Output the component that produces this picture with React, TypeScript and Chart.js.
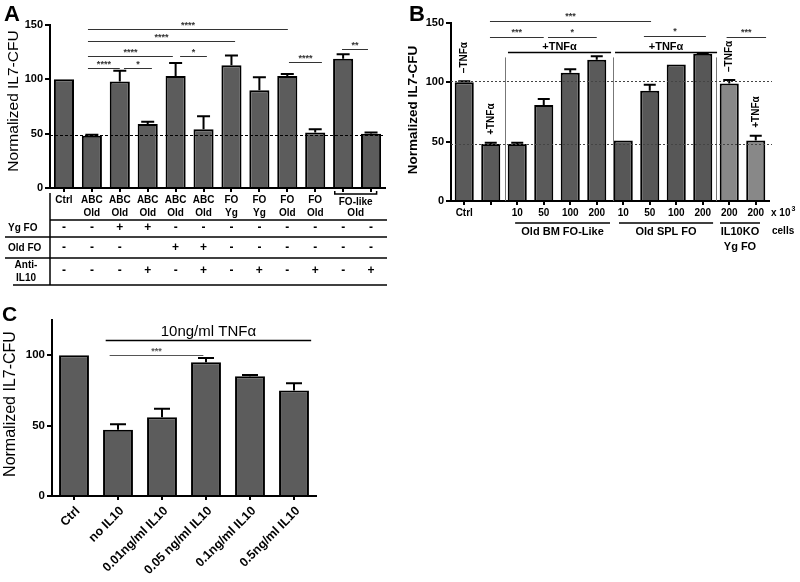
import React, { useEffect, useRef } from "react";
import { Chart, registerables } from "chart.js";
Chart.register(...registerables);

const FONT = "'Liberation Sans', Arial, Helvetica, sans-serif";

// ---------- Panel A data ----------
const catsA1 = ["Ctrl", "ABC", "ABC", "ABC", "ABC", "ABC", "FO", "FO", "FO", "FO", "", ""];
const catsA2 = ["", "Old", "Old", "Old", "Old", "Old", "Yg", "Yg", "Old", "Old", "", ""];
const valuesA = [100, 48, 98, 59, 103, 54, 113, 90, 103, 51, 119, 50];
const errA = [0, 1, 10, 2, 12, 12, 9, 12, 2, 3, 4, 1];
const ygFO = ["-", "-", "+", "+", "-", "-", "-", "-", "-", "-", "-", "-"];
const oldFO = ["-", "-", "-", "", "+", "+", "-", "-", "-", "-", "-", "-"];
const antiIL10 = ["-", "-", "-", "+", "-", "+", "-", "+", "-", "+", "-", "+"];
const refLineA = 49;
const sigA = [
  { from: 0.86, to: 8.02, v: 146, label: "****" },
  { from: 0.86, to: 6.13, v: 135, label: "****" },
  { from: 0.86, to: 3.9, v: 121.5, label: "****" },
  { from: 4.16, to: 5.12, v: 121.5, label: "*" },
  { from: 0.86, to: 2.0, v: 110.5, label: "****" },
  { from: 2.15, to: 3.15, v: 110.5, label: "*" },
  { from: 8.06, to: 9.24, v: 116, label: "****" },
  { from: 9.96, to: 10.89, v: 128, label: "**" },
];

// ---------- Panel B data ----------
const catsB = ["Ctrl", "", "10", "50", "100", "200", "10", "50", "100", "200", "200", "200"];
const valuesB = [100, 48, 48, 81, 108, 119, 51, 93, 115, 124, 99, 51];
const errB = [1, 1, 1, 5, 3, 3, 0, 5, 0, 0.5, 3, 4];
const colorsB = ["#5a5a5a", "#5a5a5a", "#5a5a5a", "#5a5a5a", "#5a5a5a", "#5a5a5a", "#575757", "#575757", "#575757", "#575757", "#888888", "#888888"];
const refLinesB = [101.5, 48];
const sigB = [
  { from: 0.97, to: 7.05, v: 151.5, label: "***" },
  { from: 0.97, to: 3.0, v: 138, label: "***" },
  { from: 3.16, to: 5.0, v: 138, label: "*" },
  { from: 6.78, to: 9.12, v: 139, label: "*" },
  { from: 9.9, to: 11.39, v: 138, label: "***" },
];
const tnfGroupsB = [
  { from: 1.65, to: 5.54, v: 125.6, label: "+TNFα" },
  { from: 5.69, to: 9.54, v: 125.6, label: "+TNFα" },
];
const dividersB = [1.54, 5.61, 9.5];
const rotLabelsB = [
  { i: 0, text: "–TNFα" },
  { i: 1, text: "+TNFα" },
  { i: 10, text: "–TNFα" },
  { i: 11, text: "+TNFα" },
];
const groupsB = [
  { from: 1.92, to: 5.5, lines: ["Old BM FO-Like"] },
  { from: 5.84, to: 9.39, lines: ["Old SPL FO"] },
  { from: 9.65, to: 11.16, lines: ["IL10KO", "Yg FO"] },
];

// ---------- Panel C data ----------
const catsC = ["Ctrl", "no IL10", "0.01ng/ml IL10", "0.05 ng/ml IL10", "0.1ng/ml IL10", "0.5ng/ml IL10"];
const valuesC = [100, 47, 56, 95, 85, 75];
const errC = [0, 4, 6, 3, 1, 5];
const tnfC = { from: 0.72, to: 5.39, v: 111, label: "10ng/ml TNFα" };
const sigC = [{ from: 0.81, to: 2.94, v: 100.4, label: "***" }];

type Spec = {
  labels: string[];
  values: number[];
  colors: string | string[];
  yMax: number;
  yTicks: number[];
  padTop: number;
  padRight: number;
  yWidth: number;
  xHeight: number;
  barPct: number;
  tickFont: number;
  plugin: any;
};

function makeConfig(s: Spec): any {
  return {
    type: "bar",
    data: {
      labels: s.labels,
      datasets: [
        {
          data: s.values,
          backgroundColor: s.colors,
          borderColor: "#000",
          borderWidth: 2,
          borderSkipped: "start",
          barPercentage: s.barPct,
          categoryPercentage: 1,
        },
      ],
    },
    options: {
      responsive: false,
      animation: false,
      devicePixelRatio: 1,
      layout: { padding: { top: s.padTop, right: s.padRight, left: 0, bottom: 0 } },
      plugins: { legend: { display: false }, tooltip: { enabled: false }, title: { display: false } },
      scales: {
        x: {
          type: "category",
          offset: true,
          grid: { display: true, drawOnChartArea: false, drawTicks: true, tickLength: 4, offset: false, color: "#000", lineWidth: 2 },
          border: { display: true, color: "#000", width: 2 },
          ticks: { display: false },
          afterFit: (sc: any) => {
            sc.height = s.xHeight;
          },
        },
        y: {
          min: 0,
          max: s.yMax,
          grid: { display: true, drawOnChartArea: false, drawTicks: true, tickLength: 5, color: "#000", lineWidth: 2 },
          border: { display: true, color: "#000", width: 2 },
          ticks: { color: "#000", font: { family: FONT, size: s.tickFont, weight: "bold" }, padding: 2 },
          afterBuildTicks: (sc: any) => {
            sc.ticks = s.yTicks.map((v) => ({ value: v }));
          },
          afterFit: (sc: any) => {
            sc.width = s.yWidth;
          },
        },
      },
    },
    plugins: [s.plugin],
  };
}

function drawErrors(ctx: CanvasRenderingContext2D, chart: any, values: number[], errs: number[], cap: number) {
  const x = chart.scales.x;
  const y = chart.scales.y;
  ctx.save();
  ctx.strokeStyle = "#000";
  ctx.lineWidth = 2;
  values.forEach((v, i) => {
    if (!errs[i]) return;
    const cx = x.getPixelForValue(i);
    const y0 = y.getPixelForValue(v);
    const y1 = y.getPixelForValue(v + errs[i]);
    ctx.beginPath();
    ctx.moveTo(cx, y0);
    ctx.lineTo(cx, y1);
    ctx.moveTo(cx - cap / 2, y1);
    ctx.lineTo(cx + cap / 2, y1);
    ctx.stroke();
  });
  ctx.restore();
}

function drawSig(ctx: CanvasRenderingContext2D, chart: any, list: { from: number; to: number; v: number; label: string }[], color: string, font: string, lw: number, gap: number) {
  const x = chart.scales.x;
  const y = chart.scales.y;
  ctx.save();
  list.forEach((s) => {
    const x1 = x.getPixelForValue(s.from);
    const x2 = x.getPixelForValue(s.to);
    const yy = Math.round(y.getPixelForValue(s.v)) + 0.5;
    ctx.strokeStyle = color;
    ctx.lineWidth = lw;
    ctx.beginPath();
    ctx.moveTo(x1, yy);
    ctx.lineTo(x2, yy);
    ctx.stroke();
    ctx.fillStyle = color;
    ctx.font = font;
    ctx.textAlign = "center";
    ctx.textBaseline = "alphabetic";
    ctx.fillText(s.label, (x1 + x2) / 2, yy - gap);
  });
  ctx.restore();
}

function drawYTitle(ctx: CanvasRenderingContext2D, text: string, x: number, y: number, font: string) {
  ctx.save();
  ctx.translate(x, y);
  ctx.rotate(-Math.PI / 2);
  ctx.fillStyle = "#000";
  ctx.font = font;
  ctx.textAlign = "center";
  ctx.textBaseline = "middle";
  ctx.fillText(text, 0, 0);
  ctx.restore();
}

function drawLetter(ctx: CanvasRenderingContext2D, t: string, x: number, y: number, size: number) {
  ctx.save();
  ctx.fillStyle = "#000";
  ctx.font = `bold ${size}px ${FONT}`;
  ctx.textAlign = "left";
  ctx.textBaseline = "alphabetic";
  ctx.fillText(t, x, y);
  ctx.restore();
}

const pluginA = {
  id: "panelA",
  afterDatasetsDraw(chart: any) {
    const ctx = chart.ctx as CanvasRenderingContext2D;
    drawErrors(ctx, chart, valuesA, errA, 13);
  },
  afterDraw(chart: any) {
    const ctx = chart.ctx as CanvasRenderingContext2D;
    const x = chart.scales.x;
    const y = chart.scales.y;
    const area = chart.chartArea;
    const b = area.bottom;
    // reference dashed line
    ctx.save();
    ctx.strokeStyle = "#000";
    ctx.lineWidth = 1;
    ctx.setLineDash([3, 2]);
    const ry = Math.round(y.getPixelForValue(refLineA)) + 0.5;
    ctx.beginPath();
    ctx.moveTo(area.left, ry);
    ctx.lineTo(area.right, ry);
    ctx.stroke();
    ctx.restore();

    drawSig(ctx, chart, sigA, "#333", `bold 9px ${FONT}`, 1, 2);

    // category labels
    ctx.save();
    ctx.fillStyle = "#000";
    ctx.font = `bold 10px ${FONT}`;
    ctx.textAlign = "center";
    ctx.textBaseline = "middle";
    catsA1.forEach((t, i) => {
      if (t) ctx.fillText(t, x.getPixelForValue(i), b + 12);
    });
    catsA2.forEach((t, i) => {
      if (t) ctx.fillText(t, x.getPixelForValue(i), b + 25);
    });
    // FO-like bracket
    const bx1 = x.getPixelForValue(9.7);
    const bx2 = x.getPixelForValue(11.2);
    ctx.strokeStyle = "#000";
    ctx.lineWidth = 1.5;
    ctx.beginPath();
    ctx.moveTo(bx1, b + 3);
    ctx.lineTo(bx1, b + 6);
    ctx.lineTo(bx2, b + 6);
    ctx.lineTo(bx2, b + 3);
    ctx.stroke();
    const bc = (bx1 + bx2) / 2;
    ctx.fillText("FO-like", bc, b + 14);
    ctx.fillText("Old", bc, b + 25);

    // table lines
    ctx.strokeStyle = "#000";
    ctx.lineWidth = 1.5;
    const right = area.right + 2;
    const lines = [
      { y: b + 32, x0: area.left },
      { y: b + 49, x0: 5 },
      { y: b + 70, x0: 5 },
      { y: b + 97, x0: 13 },
    ];
    lines.forEach((l) => {
      ctx.beginPath();
      ctx.moveTo(l.x0, l.y);
      ctx.lineTo(right, l.y);
      ctx.stroke();
    });
    ctx.beginPath();
    ctx.moveTo(area.left, b + 5);
    ctx.lineTo(area.left, b + 97);
    ctx.stroke();

    // row labels
    ctx.font = `bold 10px ${FONT}`;
    ctx.textAlign = "left";
    ctx.fillText("Yg FO", 8, b + 40);
    ctx.fillText("Old FO", 8, b + 60);
    ctx.textAlign = "center";
    ctx.fillText("Anti-", 26, b + 77);
    ctx.fillText("IL10", 26, b + 90);
    ctx.font = `bold 12px ${FONT}`;
    const rows = [
      { arr: ygFO, y: b + 40 },
      { arr: oldFO, y: b + 60 },
      { arr: antiIL10, y: b + 83 },
    ];
    rows.forEach((r) => {
      r.arr.forEach((t, i) => {
        if (t) ctx.fillText(t, x.getPixelForValue(i), r.y);
      });
    });
    ctx.restore();

    drawYTitle(ctx, "Normalized IL7-CFU", 14, 101, `15.5px ${FONT}`);
    drawLetter(ctx, "A", 4, 21, 22);
  },
};

const pluginB = {
  id: "panelB",
  afterDatasetsDraw(chart: any) {
    const ctx = chart.ctx as CanvasRenderingContext2D;
    drawErrors(ctx, chart, valuesB, errB, 12);
  },
  afterDraw(chart: any) {
    const ctx = chart.ctx as CanvasRenderingContext2D;
    const x = chart.scales.x;
    const y = chart.scales.y;
    const area = chart.chartArea;
    const b = area.bottom;

    // dividers
    ctx.save();
    ctx.strokeStyle = "#777";
    ctx.lineWidth = 1;
    dividersB.forEach((d) => {
      const dx = Math.round(x.getPixelForValue(d)) + 0.5;
      ctx.beginPath();
      ctx.moveTo(dx, y.getPixelForValue(121));
      ctx.lineTo(dx, b);
      ctx.stroke();
    });
    // dotted reference lines
    ctx.strokeStyle = "#444";
    ctx.setLineDash([2, 2]);
    refLinesB.forEach((v) => {
      const ry = Math.round(y.getPixelForValue(v)) + 0.5;
      ctx.beginPath();
      ctx.moveTo(area.left, ry);
      ctx.lineTo(area.right + 3, ry);
      ctx.stroke();
    });
    ctx.restore();

    drawSig(ctx, chart, sigB, "#333", `bold 9px ${FONT}`, 1, 3);
    drawSig(ctx, chart, tnfGroupsB, "#000", `bold 11px ${FONT}`, 1.5, 3);

    // rotated labels over bars
    ctx.save();
    ctx.fillStyle = "#000";
    ctx.font = `bold 10px ${FONT}`;
    rotLabelsB.forEach((r) => {
      const cx = x.getPixelForValue(r.i);
      const top = y.getPixelForValue(valuesB[r.i] + errB[r.i]);
      ctx.save();
      ctx.translate(cx, top - 8);
      ctx.rotate(-Math.PI / 2);
      ctx.textAlign = "left";
      ctx.textBaseline = "middle";
      ctx.fillText(r.text, 0, 0);
      ctx.restore();
    });
    ctx.restore();

    // x labels
    ctx.save();
    ctx.fillStyle = "#000";
    ctx.font = `bold 10px ${FONT}`;
    ctx.textAlign = "center";
    ctx.textBaseline = "middle";
    catsB.forEach((t, i) => {
      if (t) ctx.fillText(t, x.getPixelForValue(i), b + 12);
    });
    ctx.textAlign = "left";
    ctx.fillText("x 10", area.right + 2, b + 12);
    const w = ctx.measureText("x 10").width;
    ctx.font = `bold 7px ${FONT}`;
    ctx.fillText("3", area.right + 2 + w + 1, b + 8);
    ctx.font = `bold 10px ${FONT}`;
    ctx.fillText("cells", area.right + 3, b + 30);

    ctx.strokeStyle = "#000";
    ctx.lineWidth = 1.5;
    ctx.font = `bold 11px ${FONT}`;
    ctx.textAlign = "center";
    groupsB.forEach((g) => {
      const x1 = x.getPixelForValue(g.from);
      const x2 = x.getPixelForValue(g.to);
      ctx.beginPath();
      ctx.moveTo(x1, b + 22);
      ctx.lineTo(x2, b + 22);
      ctx.stroke();
      g.lines.forEach((ln, k) => {
        ctx.fillText(ln, (x1 + x2) / 2, b + 31 + k * 15);
      });
    });
    ctx.restore();

    drawYTitle(ctx, "Normalized IL7-CFU", 13, 110, `bold 13.5px ${FONT}`);
    drawLetter(ctx, "B", 9, 21, 22);
  },
};

const pluginC = {
  id: "panelC",
  afterDatasetsDraw(chart: any) {
    const ctx = chart.ctx as CanvasRenderingContext2D;
    drawErrors(ctx, chart, valuesC, errC, 16);
  },
  afterDraw(chart: any) {
    const ctx = chart.ctx as CanvasRenderingContext2D;
    const x = chart.scales.x;
    const area = chart.chartArea;
    const b = area.bottom;
    drawSig(ctx, chart, sigC, "#555", `bold 9px ${FONT}`, 1, 2);
    drawSig(ctx, chart, [tnfC], "#000", `15px ${FONT}`, 1.5, 5);

    ctx.save();
    ctx.fillStyle = "#000";
    ctx.font = `bold 12.5px ${FONT}`;
    catsC.forEach((t, i) => {
      const cx = x.getPixelForValue(i);
      ctx.save();
      ctx.translate(cx + 4, b + 13);
      ctx.rotate(-Math.PI / 4);
      ctx.textAlign = "right";
      ctx.textBaseline = "middle";
      ctx.fillText(t, 0, 0);
      ctx.restore();
    });
    ctx.restore();

    drawYTitle(ctx, "Normalized IL7-CFU", 11, 104, `16px ${FONT}`);
    drawLetter(ctx, "C", 2, 21, 21);
  },
};

function Panel(props: { left: number; top: number; width: number; height: number; spec: Spec }) {
  const ref = useRef<HTMLCanvasElement>(null);
  useEffect(() => {
    const chart = new Chart(ref.current as HTMLCanvasElement, makeConfig(props.spec));
    return () => chart.destroy();
  }, []);
  return (
    <canvas
      ref={ref}
      width={props.width}
      height={props.height}
      style={{ position: "absolute", left: props.left, top: props.top, width: props.width, height: props.height }}
    />
  );
}

const specA: Spec = {
  labels: catsA1.map((t, i) => (t + " " + catsA2[i]).trim() || "FO-like Old " + i),
  values: valuesA,
  colors: "#5c5c5c",
  yMax: 150,
  yTicks: [0, 50, 100, 150],
  padTop: 25,
  padRight: 15,
  yWidth: 50,
  xHeight: 112,
  barPct: 0.72,
  tickFont: 11,
  plugin: pluginA,
};

const specB: Spec = {
  labels: catsB.map((t, i) => t || "TNF" + i),
  values: valuesB,
  colors: colorsB,
  yMax: 150,
  yTicks: [0, 50, 100, 150],
  padTop: 23,
  padRight: 31,
  yWidth: 51,
  xHeight: 99,
  barPct: 0.72,
  tickFont: 11,
  plugin: pluginB,
};

const specC: Spec = {
  labels: catsC,
  values: valuesC,
  colors: "#5c5c5c",
  yMax: 125,
  yTicks: [0, 50, 100],
  padTop: 20,
  padRight: 84,
  yWidth: 52,
  xHeight: 86,
  barPct: 0.68,
  tickFont: 11.5,
  plugin: pluginC,
};

export default function App() {
  return (
    <div style={{ position: "fixed", left: 0, top: 0, width: 800, height: 582, background: "#fff", overflow: "hidden" }}>
      <Panel left={0} top={0} width={400} height={300} spec={specA} />
      <Panel left={400} top={0} width={400} height={300} spec={specB} />
      <Panel left={0} top={300} width={400} height={282} spec={specC} />
    </div>
  );
}
